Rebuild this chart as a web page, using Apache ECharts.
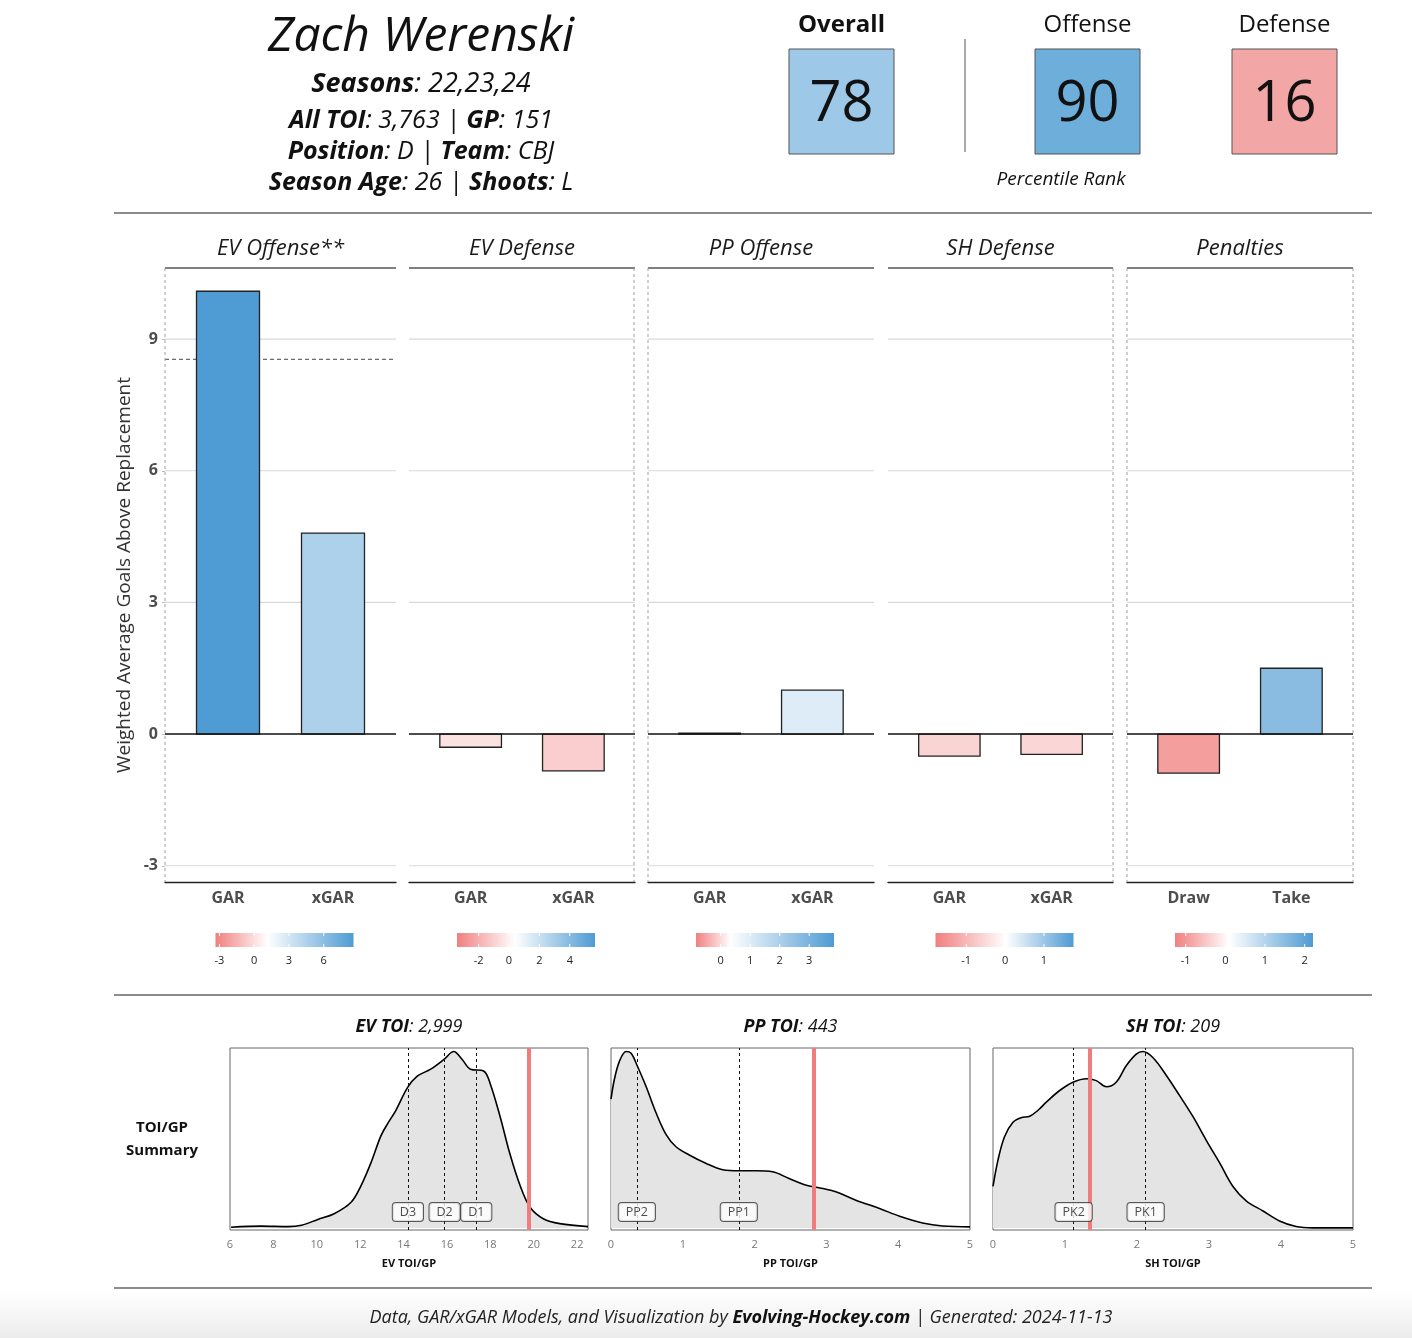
<!DOCTYPE html>
<html><head><meta charset="utf-8">
<script src="https://cdn.jsdelivr.net/npm/echarts@6/dist/echarts.min.js"></script>
<style>html,body{margin:0;padding:0;background:#fff}#c{width:1412px;height:1338px}</style>
</head><body><div id="c"></div>
<script>
// ---------------- DATA ----------------
const playerName = 'Zach Werenski';
const seasons = '22,23,24';
const allToi = '3,763';
const gamesPlayed = '151';
const position = 'D';
const team = 'CBJ';
const seasonAge = '26';
const shoots = 'L';

const percentileNames = ['Overall', 'Offense', 'Defense'];
const percentileValues = [78, 90, 16];

const facetNames = ['EV Offense**', 'EV Defense', 'PP Offense', 'SH Defense', 'Penalties'];
const facetCats = [['GAR','xGAR'], ['GAR','xGAR'], ['GAR','xGAR'], ['GAR','xGAR'], ['Draw','Take']];
const evOffense = [10.09, 4.58];
const evDefense = [-0.30, -0.84];
const ppOffense = [0.02, 1.00];
const shDefense = [-0.50, -0.46];
const penalties = [-0.89, 1.50];
const evOffenseBenchmark = 8.54;
const garTicks = [-3, 0, 3, 6, 9];

const legendLimits = [[-3.34, 8.57], [-3.42, 5.66], [-0.84, 3.84], [-1.79, 1.76], [-1.27, 2.21]];
const legendMid = [1.14, 0.39, 0.33, 0.02, 0.09];
const legendTicks = [[-3, 0, 3, 6], [-2, 0, 2, 4], [0, 1, 2, 3], [-1, 0, 1], [-1, 0, 1, 2]];

const evToi = '2,999', ppToi = '443', shToi = '209';
const evToiX = [6.05, 7.45, 8.67, 9.3, 10.05, 10.8, 11.58, 12.04, 12.5, 12.95, 13.26, 13.64, 14.18, 14.63, 15.25, 15.86, 16.31, 16.7, 17.08, 17.69, 18.0, 18.45, 18.9, 19.37, 19.83, 20.44, 21.2, 22.5];
const evToiY = [0.004, 0.01, 0.007, 0.015, 0.048, 0.08, 0.145, 0.24, 0.37, 0.52, 0.59, 0.665, 0.795, 0.86, 0.90, 0.955, 1.0, 0.955, 0.90, 0.89, 0.815, 0.63, 0.42, 0.24, 0.117, 0.052, 0.024, 0.007];
const ppToiX = [0, 0.046, 0.116, 0.21, 0.28, 0.37, 0.49, 0.63, 0.77, 0.905, 1.09, 1.32, 1.555, 1.79, 2.02, 2.25, 2.48, 2.72, 2.95, 3.13, 3.41, 3.74, 4.02, 4.34, 4.62, 5.0];
const ppToiY = [0.73, 0.84, 0.943, 1.0, 0.99, 0.915, 0.80, 0.65, 0.527, 0.46, 0.413, 0.366, 0.33, 0.324, 0.324, 0.318, 0.28, 0.242, 0.223, 0.205, 0.157, 0.11, 0.066, 0.028, 0.011, 0.006];
const shToiX = [0, 0.07, 0.16, 0.28, 0.39, 0.51, 0.625, 0.74, 0.926, 1.11, 1.30, 1.435, 1.574, 1.71, 1.85, 1.99, 2.08, 2.22, 2.41, 2.59, 2.78, 2.96, 3.15, 3.33, 3.52, 3.75, 3.98, 4.21, 4.44, 5.0];
const shToiY = [0.236, 0.386, 0.517, 0.60, 0.625, 0.633, 0.667, 0.713, 0.779, 0.826, 0.846, 0.835, 0.80, 0.826, 0.919, 0.985, 1.0, 0.966, 0.863, 0.751, 0.629, 0.498, 0.367, 0.236, 0.152, 0.096, 0.039, 0.0075, 0, 0];

const evRefNames = ['D3', 'D2', 'D1'];
const evRefValues = [14.2, 15.89, 17.35];
const ppRefNames = ['PP2', 'PP1'];
const ppRefValues = [0.36, 1.78];
const shRefNames = ['PK2', 'PK1'];
const shRefValues = [1.12, 2.12];
const evPlayerToi = 19.75, ppPlayerToi = 2.83, shPlayerToi = 1.34;
const evTicks = [6, 8, 10, 12, 14, 16, 18, 20, 22];
const ppTicks = [0, 1, 2, 3, 4, 5];
const shTicks = [0, 1, 2, 3, 4, 5];

// ---------------- STYLE / LAYOUT ----------------
const FONT = '"Open Sans", "Noto Sans", sans-serif';
const LOW = '#f17f7f', HIGH = '#4f9bd3';
const PCT_FILL = ['#9dc8e8', '#6daedb', '#f3a6a6'];

function hex(c){ return [1,3,5].map(i => parseInt(c.slice(i, i+2), 16)); }
function mix(a, b, t){ const A = hex(a), B = hex(b); return 'rgb(' + A.map((x,i) => Math.round(x + (B[i]-x)*t)).join(',') + ')'; }
function fillFor(i, v){
  const lo = legendLimits[i][0], hi = legendLimits[i][1], m = legendMid[i];
  if (v >= m) return mix('#ffffff', HIGH, Math.min(1, (v-m)/(hi-m)));
  return mix('#ffffff', LOW, Math.min(1, Math.pow((m-v)/(m-lo), 0.85)));
}

const panelLeft = [165, 409, 648, 888, 1127];
const panelWidth = [231, 226, 226, 225, 226];
const PANEL_TOP = 268, PANEL_H = 614;
const facetValues = [evOffense, evDefense, ppOffense, shDefense, penalties];

const grids = [], xAxes = [], yAxes = [], series = [], graphics = [];

// footer background
graphics.push({type:'rect', z:0, shape:{x:0, y:1292, width:1412, height:46},
  style:{fill: new echarts.graphic.LinearGradient(0,0,0,1,[{offset:0,color:'#ffffff'},{offset:1,color:'#ececec'}])}});

facetValues.forEach((vals, i) => {
  grids.push({left: panelLeft[i], top: PANEL_TOP, width: panelWidth[i], height: PANEL_H});
  xAxes.push({gridIndex:i, type:'value', min:0.4, max:2.6,
    axisLine:{show:true, onZero:false, lineStyle:{color:'#222', width:1.3}},
    axisTick:{show:false}, splitLine:{show:false},
    axisLabel:{customValues:[1,2], formatter: v => facetCats[i][Math.round(v)-1], fontFamily:FONT, fontWeight:'bold', fontSize:16, color:'#4d4d4d', margin:8}});
  yAxes.push({gridIndex:i, type:'value', min:-3.37, max:10.62,
    axisLine:{show:false}, splitLine:{show:false},
    axisTick:{show:i===0, customValues:garTicks, length:3, lineStyle:{color:'#bbb'}},
    axisLabel:{show:i===0, customValues:garTicks, fontFamily:FONT, fontWeight:'bold', fontSize:16, color:'#4d4d4d', margin:7},
    name: i===0 ? 'Weighted Average Goals Above Replacement' : '',
    nameLocation:'middle', nameGap:31,
    nameTextStyle:{fontFamily:FONT, fontSize:19, color:'#333'}});
  // gridlines (behind bars)
  const gl = garTicks.filter(t => t !== 0).map(t => [t, 0]);
  if (i === 0) gl.push([evOffenseBenchmark, 1]);
  series.push({type:'custom', xAxisIndex:i, yAxisIndex:i, z:1, silent:true, data: gl,
    renderItem: (params, api) => {
      const y = api.value(0), dashed = api.value(1) === 1;
      const a = api.coord([0.4, y]), b = api.coord([2.6, y]);
      return {type:'line', shape:{x1:a[0], y1:a[1], x2:b[0], y2:b[1]},
        style: dashed ? {stroke:'#444', lineWidth:1, lineDash:[4,3]} : {stroke:'#d9d9d9', lineWidth:1.2}};
    }});
  series.push({type:'custom', xAxisIndex:i, yAxisIndex:i, z:3, silent:true,
    data: vals.map((v,k) => [k+1, v]),
    renderItem: (params, api) => {
      const x = api.value(0), v = api.value(1);
      const p0 = api.coord([x-0.3, 0]), p1 = api.coord([x+0.3, v]);
      return {type:'rect', shape:{x:p0[0], y:Math.min(p0[1],p1[1]), width:p1[0]-p0[0], height:Math.abs(p1[1]-p0[1])},
        style:{fill: fillFor(i, v), stroke:'#222', lineWidth:1.3}};
    }});
  series.push({type:'line', xAxisIndex:i, yAxisIndex:i, data:[], z:5, silent:true,
    markLine:{silent:true, symbol:['none','none'], label:{show:false}, animation:false,
      data:[{yAxis:0, lineStyle:{color:'#111', width:1.6, type:'solid'}}]}});

  // facet strip
  const cx = panelLeft[i] + panelWidth[i]/2;
  graphics.push({type:'text', x:cx, y:249, style:{text:facetNames[i], font:'italic 22px '+FONT, fill:'#1a1a1a', align:'center', verticalAlign:'middle'}});
  graphics.push({type:'line', shape:{x1:panelLeft[i], y1:PANEL_TOP, x2:panelLeft[i]+panelWidth[i], y2:PANEL_TOP}, style:{stroke:'#555', lineWidth:1.5}});

  // colour legend
  const [lo, hi] = legendLimits[i];
  const bl = cx + 4 - 69, bw = 138;
  const midF = (legendMid[i]-lo)/(hi-lo);
  graphics.push({type:'rect', shape:{x:bl, y:933, width:bw, height:14},
    style:{fill: new echarts.graphic.LinearGradient(0,0,1,0,[{offset:0,color:LOW},{offset:midF,color:'#ffffff'},{offset:1,color:HIGH}])}});
  legendTicks[i].forEach(t => {
    const tx = bl + (t-lo)/(hi-lo)*bw;
    graphics.push({type:'line', shape:{x1:tx, y1:933, x2:tx, y2:936}, style:{stroke:'#fff', lineWidth:1}});
    graphics.push({type:'line', shape:{x1:tx, y1:944, x2:tx, y2:947}, style:{stroke:'#fff', lineWidth:1}});
    graphics.push({type:'text', x:tx, y:961, style:{text:String(t), font:'11px '+FONT, fill:'#222', align:'center', verticalAlign:'middle'}});
  });
});

// dashed group borders
[165, 634, 648, 1113, 1127, 1353].forEach(x => {
  graphics.push({type:'line', z:2, shape:{x1:x, y1:PANEL_TOP, x2:x, y2:PANEL_TOP+PANEL_H}, style:{stroke:'#a0a0a0', lineWidth:1, lineDash:[3,3]}});
});

// density panels
const dens = [
  {left:230, width:358, min:6, max:22.5, ticks:evTicks, X:evToiX, Y:evToiY, refN:evRefNames, refV:evRefValues, player:evPlayerToi, name:'EV TOI/GP', title:'EV TOI', toi:evToi},
  {left:611, width:359, min:0, max:5, ticks:ppTicks, X:ppToiX, Y:ppToiY, refN:ppRefNames, refV:ppRefValues, player:ppPlayerToi, name:'PP TOI/GP', title:'PP TOI', toi:ppToi},
  {left:993, width:360, min:0, max:5, ticks:shTicks, X:shToiX, Y:shToiY, refN:shRefNames, refV:shRefValues, player:shPlayerToi, name:'SH TOI/GP', title:'SH TOI', toi:shToi}
];
dens.forEach((d, j) => {
  const g = 5 + j;
  grids.push({left:d.left, top:1048, width:d.width, height:182, show:true, borderColor:'#666', borderWidth:1, backgroundColor:'#fff'});
  xAxes.push({gridIndex:g, type:'value', min:d.min, max:d.max,
    axisLine:{show:false}, axisTick:{show:false}, splitLine:{show:false},
    axisLabel:{customValues:d.ticks, fontFamily:FONT, fontSize:11, color:'#777', margin:9},
    name:d.name, nameLocation:'middle', nameGap:28,
    nameTextStyle:{fontFamily:FONT, fontWeight:'bold', fontSize:11, color:'#111'}});
  yAxes.push({gridIndex:g, type:'value', min:-0.012, max:1.02, show:false, splitLine:{show:false}});
  series.push({type:'line', xAxisIndex:g, yAxisIndex:g, data:d.X.map((x,k)=>[x, d.Y[k]]),
    smooth:0.35, symbol:'none', z:2, silent:true,
    lineStyle:{color:'#000', width:1.6}, areaStyle:{color:'#e4e4e4', opacity:1},
    markLine:{silent:true, symbol:['none','none'], label:{show:false}, animation:false,
      data: d.refV.map(v => ({xAxis:v, lineStyle:{color:'#111', width:1, type:[3,3]}}))
        .concat([{xAxis:d.player, lineStyle:{color:'#f07d7d', width:4, type:'solid'}}])}});
  series.push({type:'scatter', xAxisIndex:g, yAxisIndex:g, z:6, silent:true, symbolSize:1,
    itemStyle:{color:'transparent'},
    data: d.refV.map((v,k) => ({value:[v, 0.09], name:d.refN[k]})),
    label:{show:true, position:'inside', formatter: p => p.name, fontFamily:FONT, fontSize:12.5, color:'#222',
      backgroundColor:'#fff', borderColor:'#333', borderWidth:1, borderRadius:3, padding:[3,7,2,7]}});
  graphics.push({type:'text', x:d.left + d.width/2, y:1027,
    style:{text:'{b|'+d.title+'}{n|: '+d.toi+'}', align:'center', verticalAlign:'middle', fill:'#111',
      rich:{b:{fontFamily:FONT, fontStyle:'italic', fontWeight:'bold', fontSize:18, fill:'#111'},
            n:{fontFamily:FONT, fontStyle:'italic', fontSize:18, fill:'#111'}}}});
});

graphics.push({type:'text', x:162, y:1128, style:{text:'TOI/GP', font:'bold 15px '+FONT, fill:'#111', align:'center', verticalAlign:'middle'}});
graphics.push({type:'text', x:162, y:1151, style:{text:'Summary', font:'bold 15px '+FONT, fill:'#111', align:'center', verticalAlign:'middle'}});

// separators
[213, 995, 1288].forEach(y => graphics.push({type:'line', shape:{x1:114, y1:y, x2:1372, y2:y}, style:{stroke:'#666', lineWidth:1.3}}));

// header left
const rb = {fontFamily:FONT, fontStyle:'italic', fontWeight:'bold', fill:'#111'};
const rn = {fontFamily:FONT, fontStyle:'italic', fill:'#111'};
graphics.push({type:'text', x:421, y:37, style:{text:playerName, font:'italic 48px '+FONT, fill:'#111', align:'center', verticalAlign:'middle'}});
const headerLines = [
  ['{b|Seasons}{n|: '+seasons+'}', 84, 27],
  ['{b|All TOI}{n|: '+allToi+' | }{b|GP}{n|: '+gamesPlayed+'}', 121, 25],
  ['{b|Position}{n|: '+position+' | }{b|Team}{n|: '+team+'}', 152, 25],
  ['{b|Season Age}{n|: '+seasonAge+' | }{b|Shoots}{n|: '+shoots+'}', 183, 25]
];
headerLines.forEach(([t, y, fs]) => graphics.push({type:'text', x:421, y:y,
  style:{text:t, align:'center', verticalAlign:'middle', rich:{b: Object.assign({}, rb, {fontSize: fs}), n: Object.assign({}, rn, {fontSize: fs})}}}));

// percentile boxes
const boxX = [789, 1035, 1232];
percentileNames.forEach((n, k) => {
  graphics.push({type:'text', x:boxX[k]+52.5, y:25, style:{text:n, font:(k===0?'bold ':'')+'24px '+FONT, fill:'#111', align:'center', verticalAlign:'middle'}});
  graphics.push({type:'rect', shape:{x:boxX[k], y:49, width:105, height:105}, style:{fill:PCT_FILL[k], stroke:'#555', lineWidth:1}});
  graphics.push({type:'text', x:boxX[k]+52.5, y:105, style:{text:String(percentileValues[k]), font:'56px '+FONT, fill:'#111', align:'center', verticalAlign:'middle'}});
});
graphics.push({type:'line', shape:{x1:965, y1:39, x2:965, y2:152}, style:{stroke:'#aaa', lineWidth:2}});
graphics.push({type:'text', x:1061, y:180, style:{text:'Percentile Rank', font:'italic 19px '+FONT, fill:'#111', align:'center', verticalAlign:'middle'}});

// footer
graphics.push({type:'text', x:741, y:1318, z:5, style:{
  text:'{n|Data, GAR/xGAR Models, and Visualization by }{b|Evolving-Hockey.com}{n| | Generated: 2024-11-13}',
  align:'center', verticalAlign:'middle',
  rich:{n:{fontFamily:FONT, fontStyle:'italic', fontSize:18, fill:'#222'}, b:{fontFamily:FONT, fontStyle:'italic', fontWeight:'bold', fontSize:18, fill:'#111'}}}});

const chart = echarts.init(document.getElementById('c'), null, {renderer:'canvas'});
chart.setOption({
  animation:false,
  backgroundColor:'#ffffff',
  grid: grids, xAxis: xAxes, yAxis: yAxes, series: series,
  graphic: {elements: graphics}
});
</script></body></html>
